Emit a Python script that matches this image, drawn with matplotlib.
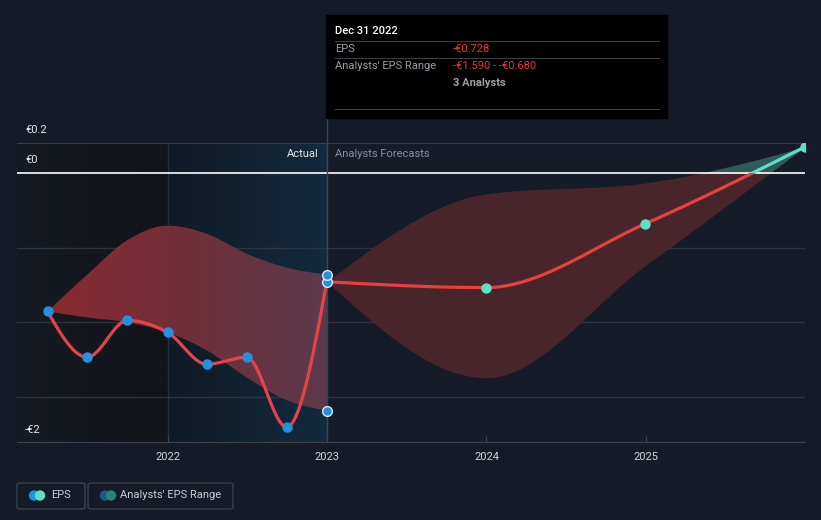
import matplotlib.pyplot as plt
import matplotlib.patches as mpatches
from matplotlib.colors import LinearSegmentedColormap
import numpy as np
import pandas as pd

plt.rcParams['font.family'] = ['Roboto', 'DejaVu Sans']

# past EPS (quarterly, EUR)
past_dates = ["2021-03-31", "2021-06-30", "2021-09-30", "2021-12-31",
              "2022-03-31", "2022-06-30", "2022-09-30", "2022-12-31"]
past_eps = [-0.927, -1.233, -0.987, -1.067, -1.28, -1.233, -1.70, -0.728]
past_high = [-0.927, -0.68, -0.45, -0.353, -0.407, -0.54, -0.633, -0.680]
past_low = [-0.927, -0.967, -1.00, -1.067, -1.187, -1.367, -1.52, -1.590]

# analysts forecasts (yearly)
fc_dates = ["2022-12-31", "2023-12-31", "2024-12-31", "2025-12-31"]
fc_eps = [-0.728, -0.767, -0.34, 0.173]
fc_high = [-0.728, -0.14, -0.067, 0.173]
fc_low = [-0.728, -1.37, -0.62, 0.173]

year_ticks = [2022, 2023, 2024, 2025]


def dec_year(dates):
    d = pd.to_datetime(dates)
    return np.array(d.year + (d.dayofyear - 1) / np.where(d.is_leap_year, 366, 365))


def monotone(x, y, n=40):
    # monotone cubic (like d3 curveMonotoneX), just for drawing
    x = np.asarray(x, float); y = np.asarray(y, float)
    h = np.diff(x); s = np.diff(y) / h
    m = np.zeros_like(y)
    for i in range(1, len(x) - 1):
        if s[i - 1] * s[i] <= 0:
            m[i] = 0
        else:
            p = (s[i - 1] * h[i] + s[i] * h[i - 1]) / (h[i - 1] + h[i])
            m[i] = (np.sign(s[i - 1]) + np.sign(s[i])) * min(abs(s[i - 1]), abs(s[i]), 0.5 * abs(p))
    m[0] = (3 * s[0] - m[1]) / 2 if len(x) > 2 else s[0]
    m[-1] = (3 * s[-1] - m[-2]) / 2 if len(x) > 2 else s[-1]
    xs, ys = [], []
    for i in range(len(x) - 1):
        t = np.linspace(0, 1, n, endpoint=(i == len(x) - 2))
        h00 = 2 * t**3 - 3 * t**2 + 1; h10 = t**3 - 2 * t**2 + t
        h01 = -2 * t**3 + 3 * t**2; h11 = t**3 - t**2
        xs.append(x[i] + t * h[i])
        ys.append(h00 * y[i] + h10 * h[i] * m[i] + h01 * y[i + 1] + h11 * h[i] * m[i + 1])
    return np.concatenate(xs), np.concatenate(ys)


W, H = 821, 520
fig = plt.figure(figsize=(8.21, 5.20), dpi=100, facecolor='#151b26')
ax = fig.add_axes([17 / W, 1 - 442 / H, 788 / W, (442 - 143) / H])
ax.set_facecolor('#161c27')
x0, x1, y0, y1 = 2021.052, 2026.0, -1.8, 0.2

px = dec_year(past_dates)
fx = dec_year(fc_dates)

# background shading: past and last-year highlight
left_cmap = LinearSegmentedColormap.from_list('l', ['#161a22', '#111419'])
ax.imshow(np.linspace(0, 1, 100).reshape(1, -1), extent=[x0, 2022.0, y0, y1],
          cmap=left_cmap, aspect='auto', zorder=0)
hl_cmap = LinearSegmentedColormap.from_list('h', ['#0f1a25', '#132a3f'])
ax.imshow(np.linspace(0, 1, 100).reshape(1, -1), extent=[2022.0, px[-1], y0, y1],
          cmap=hl_cmap, aspect='auto', zorder=0)
ax.axvline(2022.0, color='#1b3044', lw=1, zorder=1)

# grid
for g in [-0.5, -1.0, -1.5]:
    ax.axhline(g, color='#2e343e', lw=1, zorder=1)
ax.axhline(0.2, color='#3d424b', lw=1.2, zorder=1)

# past range band with gradient
bx, bh = monotone(px, past_high)
_, bl = monotone(px, past_low)
band_cmap = LinearSegmentedColormap.from_list('b', ['#882a30', '#702f3a', '#5c3a4c'])
im = ax.imshow(np.linspace(0, 1, 100).reshape(1, -1), extent=[px[0], px[-1], y0, y1],
               cmap=band_cmap, aspect='auto', zorder=2)
clip = mpatches.Polygon(np.column_stack([np.r_[bx, bx[::-1]], np.r_[bh, bl[::-1]]]),
                        closed=True, transform=ax.transData, facecolor='none', edgecolor='none')
ax.add_patch(clip)
im.set_clip_path(clip)

# forecast band, red below zero and teal above
fbx, fbh = monotone(fx, fc_high)
_, fbl = monotone(fx, fc_low)
neg = mpatches.Rectangle((x0, y0), x1 - x0, 0 - y0, transform=ax.transData)
pos = mpatches.Rectangle((x0, 0), x1 - x0, 1.0, transform=ax.transData)
f1 = ax.fill_between(fbx, fbl, fbh, color='#48242b', lw=0, zorder=2)
f1.set_clip_path(neg)
f2 = ax.fill_between(fbx, fbl, fbh, color='#2e5b56', lw=0, zorder=2)
f2.set_clip_path(pos)

ax.axhline(0, color='white', lw=1.2, zorder=3)

# EPS lines
lx, ly = monotone(px, past_eps)
ax.plot(lx, ly, color='#e3434a', lw=2.3, zorder=4, solid_capstyle='round')
flx, fly = monotone(fx, fc_eps)
l1, = ax.plot(flx, fly, color='#e8403f', lw=2.3, zorder=4)
l1.set_clip_path(neg)
l2, = ax.plot(flx, fly, color='#5de0c8', lw=2.3, zorder=4)
l2.set_clip_path(pos)

ax.axvline(px[-1], ymin=0, ymax=1, color='#2a4b68', lw=1, zorder=3)

# markers
ax.plot(px[:-1], past_eps[:-1], 'o', color='#2590e0', ms=6.5, mec='#2590e0', zorder=5)
ax.plot([px[-1]] * 3, [past_eps[-1], past_high[-1], past_low[-1]], 'o', color='#2590e0',
        ms=7, mec='#dfe8f0', mew=1, zorder=6)
ax.plot(fx[1:], fc_eps[1:], 'o', color='#5de0c8', ms=6.5, zorder=5)

ax.set_xlim(x0, x1)
ax.set_ylim(y0, y1)
for s in ['top', 'left', 'right']:
    ax.spines[s].set_visible(False)
ax.spines['bottom'].set_color('#3d424b')
ax.set_yticks([])
ax.set_xticks(year_ticks)
ax.set_xticklabels([str(y) for y in year_ticks])
ax.tick_params(axis='x', direction='in', length=4, color='#3d424b', labelcolor='#d0d4da',
               labelsize=8, pad=7)


def ftext(x, y, s, **kw):
    return fig.text(x / W, 1 - y / H, s, **kw)


# y labels
ftext(25, 130, "€0.2", color='#e6e8eb', fontsize=8, va='center')
ftext(25, 160, "€0", color='#e6e8eb', fontsize=8, va='center')
ftext(25, 430, "-€2", color='#e6e8eb', fontsize=8, va='center')

ftext(319, 154, "Actual", color='#e6e8eb', fontsize=8, va='center', ha='right')
ftext(335, 154, "Analysts Forecasts", color='#8a8f98', fontsize=8, va='center')

# tooltip
fig.add_artist(mpatches.Rectangle((326 / W, 1 - 118 / H), 341 / W, 103 / H,
                                  transform=fig.transFigure, color='#000000', zorder=10))
fig.add_artist(plt.Line2D([327 / W, 327 / W], [1 - 143 / H, 1 - 118 / H],
                          transform=fig.transFigure, color='#2a4b68', lw=1))
for yy in [41, 58, 109]:
    fig.add_artist(plt.Line2D([335 / W, 659 / W], [1 - yy / H] * 2, transform=fig.transFigure,
                              color='#3a3d42', lw=0.8, zorder=11))
ftext(335, 31, "Dec 31 2022", color='white', fontsize=8, va='center', fontweight='medium', zorder=12)
ftext(335, 49, "EPS", color='#9a9ea5', fontsize=8, va='center', zorder=12)
ftext(453, 49, "-€0.728", color='#e5393d', fontsize=8, va='center', zorder=12)
ftext(335, 66, "Analysts' EPS Range", color='#9a9ea5', fontsize=8, va='center', zorder=12)
ftext(453, 66, "-€1.590 - -€0.680", color='#e5393d', fontsize=8, va='center', zorder=12)
ftext(453, 83, "3 Analysts", color='#9a9ea5', fontsize=8, va='center', fontweight='bold', zorder=12)

# legend
for (bx0, bw) in [(17, 68), (88, 145)]:
    fig.add_artist(mpatches.FancyBboxPatch((bx0 / W, 1 - 509 / H), bw / W, 26 / H,
                                           boxstyle='round,pad=0,rounding_size=0.004',
                                           transform=fig.transFigure, facecolor='none',
                                           edgecolor='#3a3f49', lw=1))
for (cx, c) in [(34, '#2590e0'), (40, '#5de0c8'), (105, '#1d5a8a'), (111, '#2f7f79')]:
    fig.add_artist(mpatches.Ellipse((cx / W, 1 - 495.5 / H), 9 / W, 9 / H,
                                    transform=fig.transFigure, color=c))
ftext(51, 495.5, "EPS", color='#c8ccd2', fontsize=8, va='center')
ftext(120, 495.5, "Analysts' EPS Range", color='#c8ccd2', fontsize=8, va='center')

fig.savefig('out.png', dpi=100, facecolor=fig.get_facecolor())
